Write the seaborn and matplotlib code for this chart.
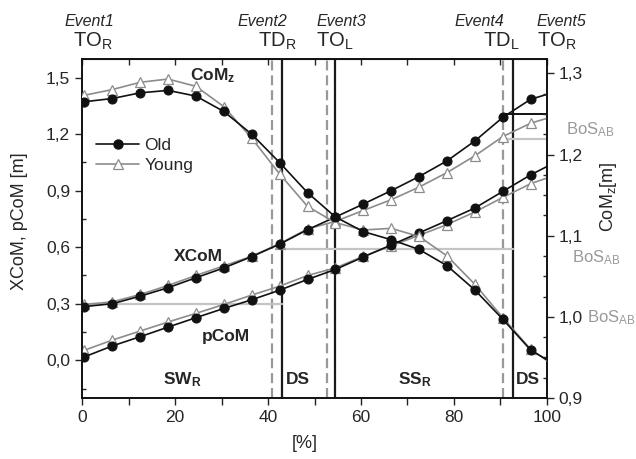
import numpy as np
import pandas as pd
import seaborn as sns
import matplotlib.pyplot as plt
from matplotlib.lines import Line2D

sns.set_style('ticks')
plt.rcParams['font.family'] = ['Liberation Sans', 'DejaVu Sans']
plt.rcParams['mathtext.default'] = 'regular'

# gait cycle [%] (markers every 6 %, line runs 0..100)
pct = [0, 0.5, 6.5, 12.5, 18.5, 24.5, 30.5, 36.5, 42.5, 48.5, 54.5,
       60.5, 66.5, 72.5, 78.5, 84.5, 90.5, 96.5, 100]

# vertical CoM [m] (right axis)
comz_old = [1.264, 1.265, 1.269, 1.276, 1.279, 1.272, 1.253, 1.225, 1.190, 1.153, 1.123,
            1.105, 1.095, 1.083, 1.063, 1.033, 0.997, 0.959, 0.947]
comz_young = [1.271, 1.273, 1.280, 1.289, 1.293, 1.284, 1.259, 1.220, 1.176, 1.136, 1.116,
              1.107, 1.109, 1.099, 1.075, 1.040, 0.999, 0.960, 0.946]

# XCoM and pCoM [m] (left axis)
xcom_old = [0.280, 0.285, 0.300, 0.340, 0.385, 0.438, 0.490, 0.550, 0.616, 0.693, 0.760,
            0.829, 0.900, 0.975, 1.058, 1.164, 1.289, 1.385, 1.411]
xcom_young = [0.290, 0.296, 0.310, 0.349, 0.397, 0.450, 0.501, 0.552, 0.619, 0.697, 0.737,
              0.795, 0.852, 0.919, 0.996, 1.085, 1.187, 1.258, 1.284]
pcom_old = [0.012, 0.018, 0.076, 0.125, 0.176, 0.226, 0.275, 0.321, 0.372, 0.429, 0.482,
            0.548, 0.612, 0.676, 0.741, 0.808, 0.896, 0.984, 1.028]
pcom_young = [0.045, 0.053, 0.107, 0.155, 0.203, 0.249, 0.296, 0.346, 0.393, 0.450, 0.490,
              0.552, 0.607, 0.663, 0.720, 0.787, 0.864, 0.937, 0.967]

# gait events
event_names = ['Event1', 'Event2', 'Event3', 'Event4', 'Event5']
event_tags = ['TO$_R$', 'TD$_R$', 'TO$_L$', 'TD$_L$', 'TO$_R$']
young_events = [40.8, 52.6, 90.5]
old_events = [43.1, 54.4, 92.6]

# base of support lines: (x start, x end, value)
bos_young = [(0, 43.1, 0.30), (43.1, 92.6, 0.59), (90.5, 100, 1.175)]
bos_old = [(90.5, 100, 1.305)]

phases = ['SW$_R$', 'DS', 'SS$_R$', 'DS']

left_ticks = [0.0, 0.3, 0.6, 0.9, 1.2, 1.5]
left_labels = ['0,0', '0,3', '0,6', '0,9', '1,2', '1,5']
right_ticks = [0.9, 1.0, 1.1, 1.2, 1.3]
right_labels = ['0,9', '1,0', '1,1', '1,2', '1,3']
x_ticks = [0, 20, 40, 60, 80, 100]

OLD = '#111111'
YOUNG = '#8c8c8c'

fig = plt.figure(figsize=(6.36, 4.59), dpi=100)
ax = fig.add_axes([0.129, 0.133, 0.731, 0.739])
ax2 = ax.twinx()

# event lines and BoS lines
for xv in young_events:
    ax.axvline(xv, color='#999999', lw=1.6, ls=(0, (4.5, 2.2)), zorder=1)
for xv in old_events:
    ax.axvline(xv, color='#1a1a1a', lw=1.6, zorder=1)
for x0, x1, v in bos_young:
    ax.plot([x0, x1], [v, v], color='#c4c4c4', lw=1.6, zorder=1)
for x0, x1, v in bos_old:
    ax.plot([x0, x1], [v, v], color='#111111', lw=1.4, zorder=1)

marks = list(range(1, 18))
young_kw = dict(color=YOUNG, lw=1.2, marker='^', markersize=7, markerfacecolor='white',
                markeredgecolor=YOUNG, markeredgewidth=0.9, markevery=marks)
old_kw = dict(color=OLD, lw=1.2, marker='o', markersize=6.5, markeredgecolor=OLD,
              markevery=marks)

df = pd.DataFrame({'pct': pct, 'xcom_old': xcom_old, 'xcom_young': xcom_young,
                   'pcom_old': pcom_old, 'pcom_young': pcom_young,
                   'comz_old': comz_old, 'comz_young': comz_young})

for col in ['xcom_young', 'pcom_young']:
    sns.lineplot(data=df, x='pct', y=col, ax=ax, sort=False, zorder=3, **young_kw)
for col in ['xcom_old', 'pcom_old']:
    sns.lineplot(data=df, x='pct', y=col, ax=ax, sort=False, zorder=4, **old_kw)
sns.lineplot(data=df, x='pct', y='comz_young', ax=ax2, sort=False, zorder=3, **young_kw)
sns.lineplot(data=df, x='pct', y='comz_old', ax=ax2, sort=False, zorder=4, **old_kw)

ax.set_xlim(0, 100)
ax.set_ylim(-0.2, 1.6)
ax2.set_ylim(0.9, 1.318)

ax.set_xticks(x_ticks)
ax.set_xticks([10, 30, 50, 70, 90], minor=True)
ax.set_yticks(left_ticks)
ax.set_yticklabels(left_labels)
ax.set_yticks([-0.15, 0.15, 0.45, 0.75, 1.05, 1.35], minor=True)
ax2.set_yticks(right_ticks)
ax2.set_yticklabels(right_labels)
ax2.set_yticks(np.arange(0.925, 1.32, 0.025), minor=True)

ax.tick_params(axis='x', which='both', direction='out', top=False, labelsize=12.5,
               length=5, width=1, color='#222222')
ax.tick_params(axis='y', which='major', direction='out', length=5, width=1, labelsize=12.5)
ax.tick_params(axis='y', which='minor', direction='in', length=3, width=1)
ax2.tick_params(axis='y', which='major', direction='out', length=5, width=1, labelsize=12.5)
ax2.tick_params(axis='y', which='minor', direction='in', length=3, width=1)
# inward ticks along the top frame
top = ax.secondary_xaxis('top')
top.set_xticks(x_ticks + [10, 30, 50, 70, 90])
top.tick_params(direction='in', length=4, width=1, labeltop=False)

for a in (ax, ax2):
    for s in a.spines.values():
        s.set_linewidth(1.2)
        s.set_color('#111111')

ax.set_xlabel('[%]', fontsize=13)
ax.set_ylabel('XCoM, pCoM [m]', fontsize=13)
ax.yaxis.set_label_coords(-0.116, 0.52)
ax.xaxis.set_label_coords(0.48, -0.11)
ax2.set_ylabel('CoM$_z$[m]', fontsize=13, rotation=90)
ax2.yaxis.set_label_coords(1.11, 0.593)

# event annotations above the frame
trans = ax.get_xaxis_transform()
ev_x = [-3.7, 33.5, 50.5, 80.2, 97.8]
tag_x = [-1.9, 37.8, 50.3, 86.2, 97.8]
for name, tag, xe, xt in zip(event_names, event_tags, ev_x, tag_x):
    ax.text(xe, 1.097, name, transform=trans, fontsize=11.5, style='italic',
            ha='left', va='baseline', clip_on=False)
    ax.text(xt, 1.036, tag, transform=trans, fontsize=14.5,
            ha='left', va='baseline', clip_on=False)

# curve labels
ax.text(23.2, 1.487, 'CoM$_z$', fontsize=12.5, fontweight='bold', ha='left', va='baseline')
ax.text(19.8, 0.529, 'XCoM', fontsize=12.5, fontweight='bold', ha='left', va='baseline')
ax.text(25.8, 0.100, 'pCoM', fontsize=12.5, fontweight='bold', ha='left', va='baseline')
for lab, xp in zip(phases, [17.4, 43.9, 68.0, 93.3]):
    ax.text(xp, -0.127, lab, fontsize=12.5, fontweight='bold', ha='left', va='baseline')

# BoS labels on the right margin
for xp, yp in [(104.1, 1.201), (105.4, 0.519), (108.6, 0.200)]:
    ax.text(xp, yp, 'BoS$_{AB}$', color='#999999', fontsize=12, ha='left',
            va='baseline', clip_on=False)

handles = [Line2D([], [], color=OLD, lw=1.2, marker='o', markersize=6.5),
           Line2D([], [], color=YOUNG, lw=1.2, marker='^', markersize=7,
                  markerfacecolor='white', markeredgecolor=YOUNG, markeredgewidth=0.9)]
ax2.legend(handles, ['Old', 'Young'], loc='upper left', bbox_to_anchor=(0.03, 0.766),
           frameon=False, fontsize=12.5, handlelength=2.5, handletextpad=0.3,
           labelspacing=0.25, borderpad=0, borderaxespad=0)

fig.savefig('out.png', dpi=100)
